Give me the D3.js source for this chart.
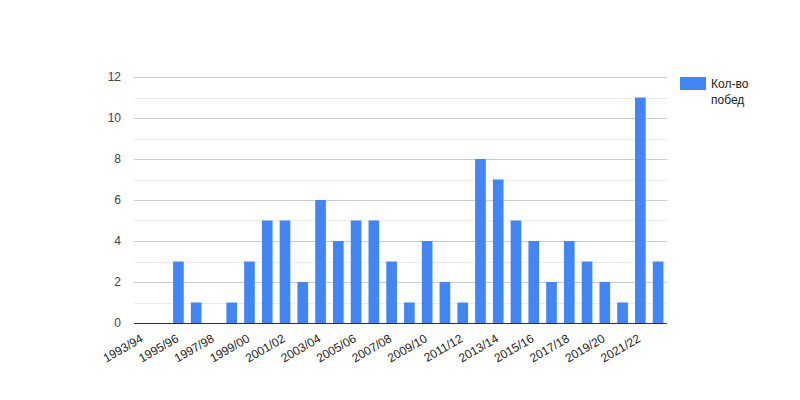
<!DOCTYPE html>
<html>
<head>
<meta charset="utf-8">
<script src="https://cdn.jsdelivr.net/npm/d3@7"></script>
<style>
  body { margin: 0; background: #fff; }
  text { font-family: Arial, "Liberation Sans", sans-serif; font-size: 12px; }
</style>
</head>
<body>
<div id="chart"></div>
<script>
// seasons and wins
var seasons = ["1993/94","1994/95","1995/96","1996/97","1997/98","1998/99","1999/00","2000/01",
  "2001/02","2002/03","2003/04","2004/05","2005/06","2006/07","2007/08","2008/09","2009/10",
  "2010/11","2011/12","2012/13","2013/14","2014/15","2015/16","2016/17","2017/18","2018/19",
  "2019/20","2020/21","2021/22","2022/23"];
var wins = [0,0,3,1,0,1,3,5,5,2,6,4,5,5,3,1,4,2,1,8,7,5,4,2,4,3,2,1,11,3];
var yTicks = [0,2,4,6,8,10,12];
var seriesName = ["Кол-во", "побед"];

var width = 800, height = 400;
var margin = {left: 134, right: 133, top: 77, bottom: 77};

var svg = d3.select("#chart").append("svg")
    .attr("width", width)
    .attr("height", height);

var x = d3.scaleBand()
    .domain(seasons)
    .range([margin.left, width - margin.right])
    .paddingInner(0.4)
    .paddingOuter(0.2);

var y = d3.scaleLinear()
    .domain([0, 12])
    .range([height - margin.bottom, margin.top]);

// minor gridlines
svg.append("g").selectAll("line")
    .data(d3.range(1, 12, 2))
    .enter().append("line")
    .attr("x1", margin.left).attr("x2", width - margin.right)
    .attr("y1", function(d) { return Math.round(y(d)) + 0.5; })
    .attr("y2", function(d) { return Math.round(y(d)) + 0.5; })
    .style("stroke", "#ebebeb");

// major gridlines
svg.append("g").selectAll("line")
    .data(yTicks.slice(1))
    .enter().append("line")
    .attr("x1", margin.left).attr("x2", width - margin.right)
    .attr("y1", function(d) { return Math.round(y(d)) + 0.5; })
    .attr("y2", function(d) { return Math.round(y(d)) + 0.5; })
    .style("stroke", "#cccccc");

// y labels
svg.append("g").selectAll("text")
    .data(yTicks)
    .enter().append("text")
    .attr("x", 121)
    .attr("y", function(d) { return y(d); })
    .attr("dy", "0.35em")
    .attr("text-anchor", "end")
    .style("fill", "#444")
    .text(function(d) { return d; });

// bars
svg.append("g").selectAll("rect")
    .data(wins)
    .enter().append("rect")
    .attr("x", function(d, i) { return x(seasons[i]); })
    .attr("width", x.bandwidth())
    .attr("y", function(d) { return y(d); })
    .attr("height", function(d) { return y(0) - y(d); })
    .style("fill", "#4285f4");

// baseline
svg.append("line")
    .attr("x1", margin.left).attr("x2", width - margin.right)
    .attr("y1", Math.round(y(0)) + 0.5).attr("y2", Math.round(y(0)) + 0.5)
    .style("stroke", "#333");

// x labels, every second season, rotated
svg.append("g").selectAll("text")
    .data(seasons.filter(function(d, i) { return i % 2 == 0; }))
    .enter().append("text")
    .attr("text-anchor", "end")
    .attr("transform", function(d) {
        var cx = x(d) + x.bandwidth() / 2 + 1;
        return "translate(" + cx + "," + 341 + ") rotate(-30)";
    })
    .style("fill", "#222")
    .text(function(d) { return d; });

// legend
var legend = svg.append("g");
legend.append("rect")
    .attr("x", 680).attr("y", 77)
    .attr("width", 26).attr("height", 13)
    .style("fill", "#4285f4");
legend.append("text")
    .attr("x", 711).attr("y", 88)
    .style("fill", "#222")
    .selectAll("tspan")
    .data(seriesName)
    .enter().append("tspan")
    .attr("x", 711)
    .attr("dy", function(d, i) { return i == 0 ? 0 : 16; })
    .text(function(d) { return d; });
</script>
</body>
</html>
